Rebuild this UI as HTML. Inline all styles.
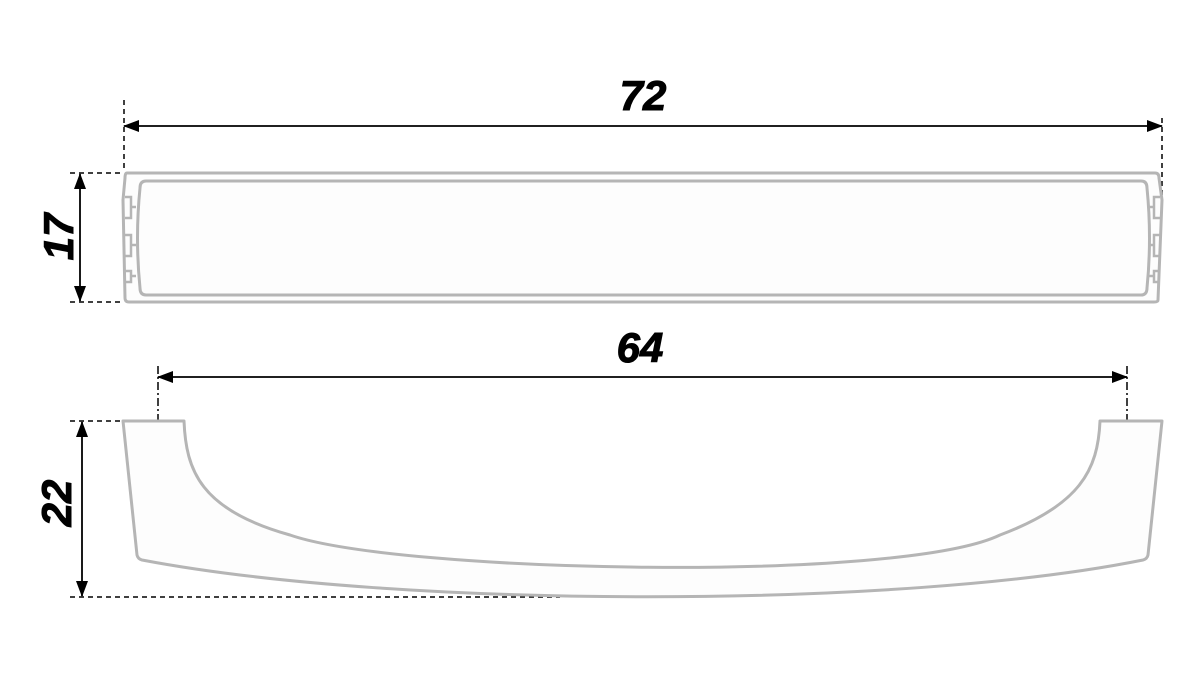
<!DOCTYPE html>
<html><head><meta charset="utf-8"><style>
html,body{margin:0;padding:0;background:#fff;}
svg{display:block;}
text{font-family:"Liberation Sans",Arial,sans-serif;font-weight:bold;font-style:italic;fill:#000;stroke:#000;stroke-width:1;}
</style></head><body>
<svg width="1200" height="675" viewBox="0 0 1200 675" xmlns="http://www.w3.org/2000/svg">
<defs>
<marker id="a" markerWidth="16" markerHeight="12" refX="15" refY="6" orient="auto" markerUnits="userSpaceOnUse">
<path d="M0,0 L16,6 L0,12 Z" fill="#000"/></marker>
<marker id="b" markerWidth="16" markerHeight="12" refX="1" refY="6" orient="auto" markerUnits="userSpaceOnUse">
<path d="M16,0 L0,6 L16,12 Z" fill="#000"/></marker>
</defs>
<g stroke="#000" stroke-width="1.5" fill="none" stroke-dasharray="5,4">
<line x1="124" y1="100" x2="124" y2="172"/>
<line x1="1162" y1="118" x2="1162" y2="208"/>
<line x1="70" y1="173" x2="123" y2="173"/>
<line x1="70" y1="302" x2="123" y2="302"/>
</g>
<line x1="124" y1="126" x2="1162" y2="126" stroke="#000" stroke-width="1.8" marker-start="url(#b)" marker-end="url(#a)"/>
<line x1="80" y1="174" x2="80" y2="301" stroke="#000" stroke-width="1.8" marker-start="url(#b)" marker-end="url(#a)"/>
<text x="643" y="110" font-size="42" text-anchor="middle">72</text>
<text x="0" y="0" font-size="42" text-anchor="middle" transform="translate(73,237) rotate(-90)">17</text>
<g stroke="#b5b5b5" stroke-width="3" fill="#fdfdfd">
<path d="M127,173 L1155,173 Q1159,173 1159,178 L1162,200 L1158,300 Q1158,302 1154,302 L129,302 Q125,302 125,298 L123,200 L125,178 Q125,173 127,173 Z"/>
<path d="M146,181 L1141,181 Q1147,181 1147,188 Q1152,238 1147,288 Q1147,295 1141,295 L146,295 Q140,295 140,288 Q135,238 140,188 Q140,181 146,181 Z"/>
</g>
<g stroke="#b5b5b5" stroke-width="2.5" fill="none">
<path d="M125,197 L131,197 L131,218 L125,218 M131,207 L136,207 M125,235 L131,235 L131,256 L125,256 M131,245 L136,245 M125,271 L131,271 L131,282 L125,282 M131,276 L136,276"/>
<path d="M1160,197 L1154,197 L1154,218 L1160,218 M1154,207 L1149,207 M1160,235 L1154,235 L1154,256 L1160,256 M1154,245 L1149,245 M1160,271 L1154,271 L1154,282 L1160,282 M1154,276 L1149,276"/>
</g>
<g stroke="#000" stroke-width="1.5" fill="none">
<line x1="70" y1="421" x2="121" y2="421" stroke-dasharray="5,4"/>
<line x1="70" y1="597" x2="560" y2="597" stroke-dasharray="5,4"/>
<line x1="158" y1="366" x2="158" y2="421" stroke-dasharray="8,3,2,3"/>
<line x1="1127" y1="366" x2="1127" y2="421" stroke-dasharray="8,3,2,3"/>
</g>
<line x1="158" y1="377" x2="1127" y2="377" stroke="#000" stroke-width="1.8" marker-start="url(#b)" marker-end="url(#a)"/>
<line x1="82" y1="422" x2="82" y2="596" stroke="#000" stroke-width="1.8" marker-start="url(#b)" marker-end="url(#a)"/>
<text x="640" y="362" font-size="42" text-anchor="middle">64</text>
<text x="0" y="0" font-size="42" text-anchor="middle" font-style="normal" transform="translate(71,503) rotate(-90)">22</text>
<path d="M123,421 L184,421 C186,470 200,510 290,535 C400,573 900,583 1000,535 C1080,505 1098,470 1100,421 L1162,421 L1148,555 Q1147,559 1143,560 C900,609 400,609 142,560 Q138,559 137,555 Z" fill="#fdfdfd" stroke="#b5b5b5" stroke-width="3" stroke-linejoin="round"/>
</svg>
</body></html>
